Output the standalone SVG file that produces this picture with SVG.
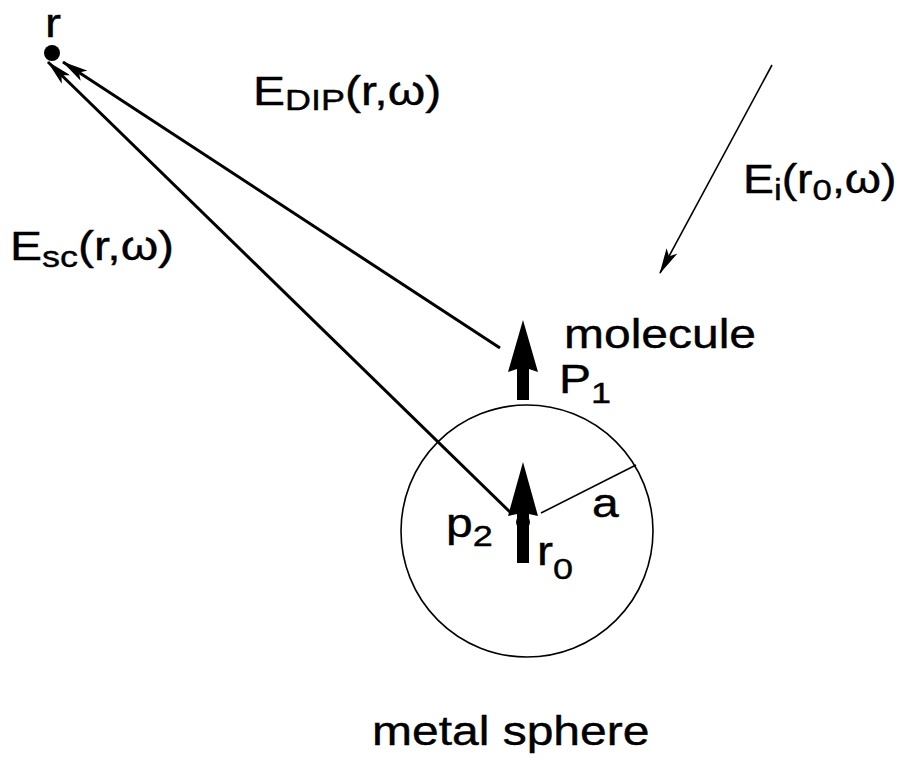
<svg xmlns="http://www.w3.org/2000/svg" width="901" height="760" viewBox="0 0 901 760">
<style>
  text { font-family: "Liberation Sans", Arial, sans-serif; font-size: 40px; fill: #000; stroke: #000; stroke-width: 0.4; }
  .sub { font-size: 30px; }
  .thin { stroke: #000; stroke-width: 3; fill: none; }
  .hair { stroke: #000; stroke-width: 1.6; fill: none; }
</style>
<defs>
  <marker id="ah" viewBox="0 0 26 12" refX="25" refY="6" markerWidth="26" markerHeight="12" markerUnits="userSpaceOnUse" orient="auto">
    <path d="M0,0 L26,6 L0,12 L6,6 z" fill="#000"/>
  </marker>
</defs>
<rect width="901" height="760" fill="#fff"/>

<g id="sphere">
  <circle cx="527" cy="531" r="126" class="hair"/>
  <line x1="541" y1="513" x2="636" y2="465" class="hair"/>
  <text transform="translate(592,517) scale(1.2,1)">a</text>
  <text transform="translate(372,745) scale(1.2,1)">metal sphere</text>
</g>

<g id="point-r">
  <circle cx="52" cy="53" r="8" fill="#000"/>
  <text transform="translate(45,37) scale(1.2,1)">r</text>
</g>

<g id="molecule">
  <polygon points="523,320 538,372 529,369 529,400 517,400 517,369 508,372" fill="#000"/>
  <text transform="translate(564,348) scale(1.2,1)">molecule</text>
  <text transform="translate(559,393) scale(1.2,1)">P<tspan class="sub" dy="10">1</tspan></text>
</g>

<g id="dipole-p2">
  <polygon points="523,462 538,516 529,514 529,563 517,563 517,514 508,516" fill="#000"/>
  <circle cx="523" cy="522" r="7" fill="#000"/>
  <text transform="translate(446,537) scale(1.2,1)">p<tspan class="sub" font-size="32" dy="9">2</tspan></text>
  <text transform="translate(537,565) scale(1.2,1)">r<tspan class="sub" dy="14">0</tspan></text>
</g>

<g id="connectors">
  <line x1="511" y1="513" x2="48" y2="62" class="thin" marker-end="url(#ah)"/>
  <line x1="500" y1="348" x2="63" y2="62" class="thin" marker-end="url(#ah)"/>
  <line x1="772" y1="65" x2="660" y2="273" class="hair" stroke-width="2.2" marker-end="url(#ah)"/>
</g>

<g id="labels">
  <text transform="translate(253,105) scale(1.2,1)">E<tspan class="sub" font-size="31" dy="5">DIP</tspan><tspan dy="-5">(r,ω)</tspan></text>
  <text transform="translate(10,260) scale(1.2,1)">E<tspan class="sub" font-size="35" dy="7">sc</tspan><tspan dy="-7">(r,ω)</tspan></text>
  <text transform="translate(743,193) scale(1.16,1)">E<tspan class="sub" font-size="29" dy="7">i</tspan><tspan dy="-7">(r</tspan><tspan class="sub" font-size="29" dy="7">0</tspan><tspan dy="-7">,ω)</tspan></text>
</g>
</svg>
